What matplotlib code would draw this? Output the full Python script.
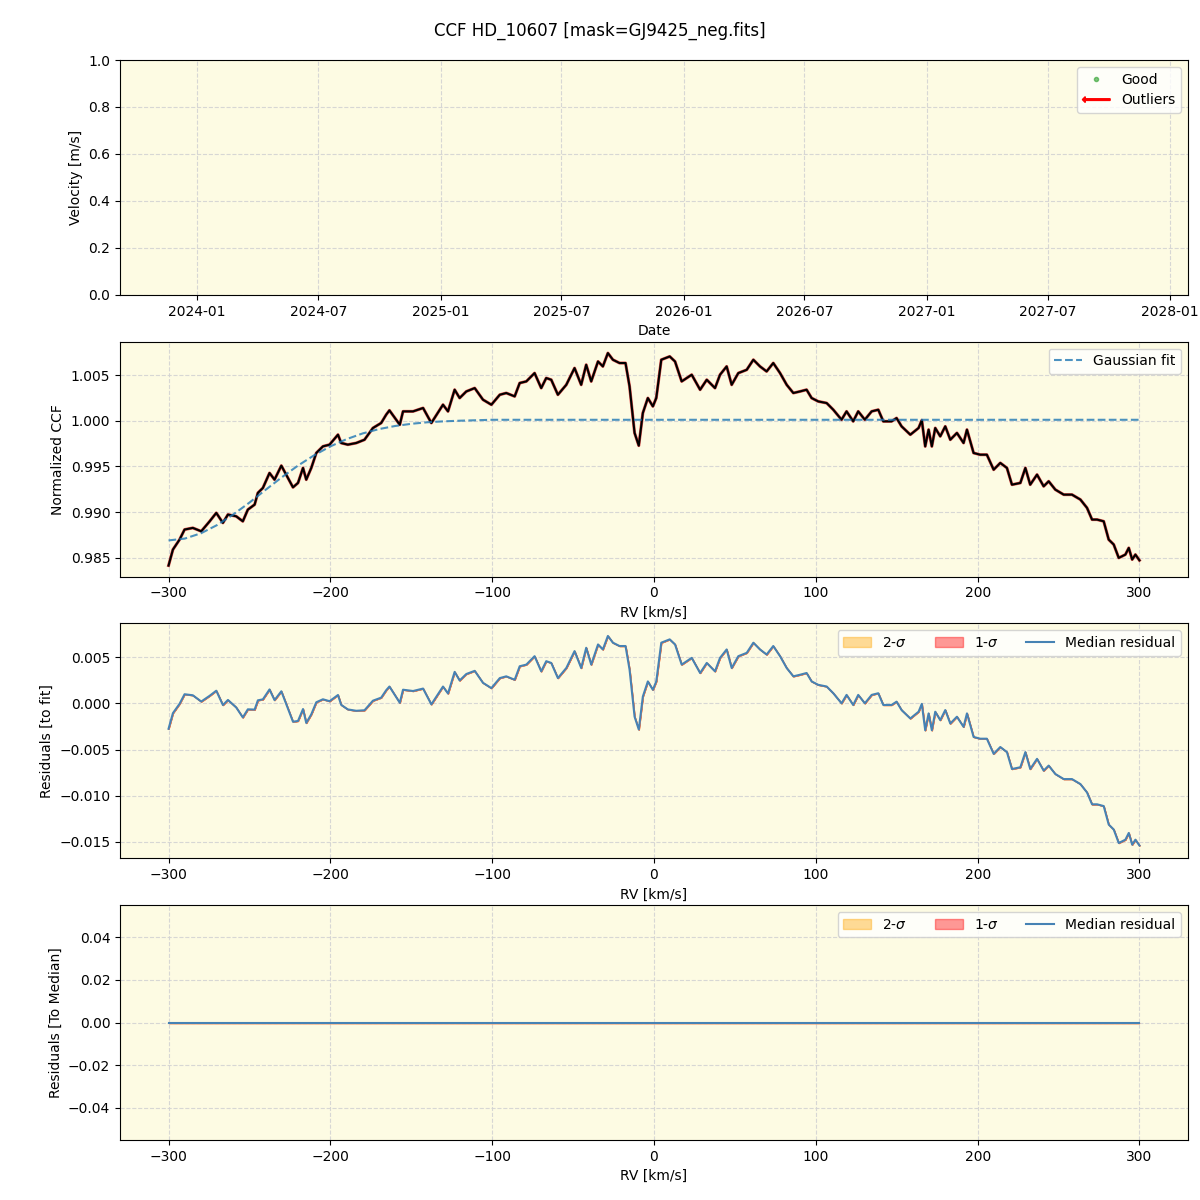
import datetime as dt

import numpy as np
import matplotlib
matplotlib.use("Agg")
import matplotlib.pyplot as plt
import matplotlib.dates as mdates
from matplotlib.lines import Line2D
from matplotlib.patches import FancyArrow, Patch
from matplotlib.legend_handler import HandlerPatch

# ---------- data ----------
rv = [
    -300.0, -297.3, -293.2, -290.1, -285.0, -279.8, -274.6, -270.5, -266.4, -263.3,
    -258.2, -254.1, -251.0, -246.8, -244.8, -241.7, -237.6, -234.5, -230.3, -227.3,
    -223.1, -220.0, -216.9, -214.9, -211.8, -208.7, -204.6, -200.5, -195.3, -193.3,
    -189.2, -184.0, -178.9, -173.7, -168.6, -165.5, -163.5, -159.3,
    -157.1, -155.1, -148.9, -142.7, -137.6, -130.4, -127.3, -123.2, -120.1, -116.0,
    -110.8, -105.7, -100.5, -95.3, -91.3, -86.1, -83.0, -78.9, -73.8, -69.7,
    -66.6, -63.5, -59.4, -54.2, -49.1, -45.0, -41.9, -38.8, -34.6, -31.6,
    -28.5, -25.4, -21.3, -17.6, -15.1, -12.0, -9.4, -6.9, -3.8, -0.7, 1.4, 4.5, 9.7,
    13.0, 17.1, 23.3, 28.5, 32.6, 37.7, 40.8, 44.9, 48.0, 52.1, 57.3, 61.4, 65.5,
    69.6, 73.7, 77.9, 82.0, 86.1, 90.2, 94.3, 97.4, 101.5, 106.7, 110.8, 115.9,
    119.0, 123.1, 126.2, 130.3, 134.5, 138.6, 141.7, 146.8, 149.9, 153.0, 158.4,
    163.5, 165.5,
    167.6, 169.7, 171.7, 173.8, 176.9, 180.0, 183.1, 187.2, 191.3, 193.4, 197.5,
    201.6, 205.7, 209.9, 214.0, 218.1, 221.2, 226.4, 229.5, 232.5, 236.7, 240.8,
    243.9, 248.0, 253.2, 258.3, 263.5, 267.6, 270.7, 273.8, 277.9, 281.0, 284.1,
    287.2, 291.3, 293.4, 295.5, 297.5, 300.0,
]
ccf = [
    0.98415, 0.98590, 0.98699, 0.98809, 0.98827, 0.98790, 0.98899, 0.98991, 0.98882, 0.98973,
    0.98954, 0.98899, 0.99027, 0.99082, 0.99210, 0.99264, 0.99428, 0.99355, 0.99508, 0.99410,
    0.99271, 0.99319, 0.99483, 0.99355, 0.99483, 0.99647, 0.99719, 0.99738, 0.99847, 0.99756,
    0.99738, 0.99756, 0.99792, 0.99920, 0.99975, 1.00066, 1.00113, 1.00011,
    0.99956, 1.00102, 1.00102, 1.00139, 0.99975, 1.00175, 1.00102, 1.00339, 1.00248, 1.00320,
    1.00357, 1.00230, 1.00175, 1.00284, 1.00303, 1.00266, 1.00412, 1.00430, 1.00521, 1.00357,
    1.00467, 1.00448, 1.00284, 1.00393, 1.00576, 1.00393, 1.00612, 1.00430, 1.00648, 1.00594,
    1.00740, 1.00667, 1.00631, 1.00631, 1.00375, 0.99866, 0.99727, 1.00084, 1.00248, 1.00157,
    1.00248, 1.00667, 1.00703,
    1.00648, 1.00430, 1.00503, 1.00339, 1.00448, 1.00357, 1.00503, 1.00594, 1.00393, 1.00521,
    1.00557, 1.00667, 1.00594, 1.00539, 1.00631, 1.00521, 1.00393, 1.00303, 1.00320, 1.00339,
    1.00248, 1.00211, 1.00193, 1.00120, 1.00011, 1.00102, 0.99993, 1.00102, 1.00011, 1.00102,
    1.00120, 0.99993, 0.99993, 1.00029, 0.99938, 0.99847, 0.99920, 1.00005,
    0.99719, 0.99902, 0.99719, 0.99920, 0.99829, 0.99938, 0.99792, 0.99866, 0.99756, 0.99902,
    0.99647, 0.99628, 0.99628, 0.99464, 0.99538, 0.99483, 0.99300, 0.99319, 0.99483, 0.99300,
    0.99410, 0.99282, 0.99337, 0.99246, 0.99191, 0.99191, 0.99137, 0.99046, 0.98918, 0.98918,
    0.98899, 0.98699, 0.98645, 0.98499, 0.98535, 0.98608, 0.98481, 0.98535, 0.98472,
]

# Gaussian fit curve, read at 10 km/s steps
fit_rv = [-300, -290, -280, -270, -260, -250, -240, -230, -220, -210, -200,
          -190, -180, -170, -160, -150, -140, -130, -120, -110, -100, 300]
fit_val = [0.98690, 0.98710, 0.98768, 0.98858, 0.98974, 0.99104, 0.99244,
           0.99381, 0.99509, 0.99622, 0.99719, 0.99798, 0.99861, 0.99908,
           0.99942, 0.99966, 0.99983, 0.99993, 1.00000, 1.00005, 1.00010, 1.00010]

date_start = dt.date(2023, 9, 7)
date_end = dt.date(2028, 1, 28)

BG = "#fdfbe3"

rv = np.array(rv)
ccf = np.array(ccf)
fit_at_rv = np.interp(rv, fit_rv, fit_val)
resid = ccf - fit_at_rv
resid_med = resid - resid  # single observation -> zero deviation from median


def make_arrow(legend, orig_handle, xdescent, ydescent, width, height, fontsize):
    return FancyArrow(width, 0.5 * height, -width, 0, width=1.2,
                      head_width=0.6 * height, head_length=0.3 * height,
                      length_includes_head=True, color="red")


fig, axes = plt.subplots(4, 1, figsize=(12, 12))
fig.subplots_adjust(left=0.1, right=0.99, top=0.95, bottom=0.05, hspace=0.2)
fig.suptitle("CCF HD_10607 [mask=GJ9425_neg.fits]", fontsize=12, y=0.982)

for ax in axes:
    ax.set_facecolor(BG)
    ax.grid(True, linestyle="--", color="lightgray", alpha=0.9)
    ax.set_axisbelow(True)

# ---------- panel 1: velocities vs date (empty) ----------
ax = axes[0]
ax.set_xlim(date_start, date_end)
ax.set_ylim(0, 1)
ax.xaxis.set_major_locator(mdates.MonthLocator(bymonth=[1, 7]))
ax.xaxis.set_major_formatter(mdates.DateFormatter("%Y-%m"))
ax.set_xlabel("Date")
ax.set_ylabel("Velocity [m/s]")
good = Line2D([], [], marker="o", linestyle="none", color="tab:green",
              alpha=0.6, markersize=3, label="Good")
outl = Patch(color="red", label="Outliers")
ax.legend(handles=[good, outl], loc="upper right",
          handler_map={outl: HandlerPatch(patch_func=make_arrow)})

# ---------- panel 2: CCF + Gaussian fit ----------
ax = axes[1]
ax.plot(rv, ccf, color="tab:red", lw=2.2, alpha=0.8)
ax.plot(rv, ccf, color="black", lw=1.5)
ax.plot(fit_rv, fit_val, "--", color="tab:blue", alpha=0.8, lw=1.5,
        label="Gaussian fit")
ax.set_ylim(0.98295, 1.00864)
ax.set_xlim(-330, 330)
ax.set_xlabel("RV [km/s]")
ax.set_ylabel("Normalized CCF")
ax.legend(loc="upper right")

# ---------- panel 3: residuals to fit ----------
ax = axes[2]
ax.fill_between(rv, resid, resid, color="orange", alpha=0.4, label="2-$\\sigma$")
ax.fill_between(rv, resid, resid, color="red", alpha=0.4, label="1-$\\sigma$")
ax.plot(rv, resid, color="steelblue", lw=1.5, label="Median residual")
ax.set_ylim(-0.01676, 0.00865)
ax.set_xlim(-330, 330)
ax.set_xlabel("RV [km/s]")
ax.set_ylabel("Residuals [to fit]")
ax.legend(loc="upper right", ncol=3)

# ---------- panel 4: residuals to median ----------
ax = axes[3]
ax.fill_between(rv, resid_med, resid_med, color="orange", alpha=0.4, label="2-$\\sigma$")
ax.fill_between(rv, resid_med, resid_med, color="red", alpha=0.4, label="1-$\\sigma$")
ax.plot(rv, resid_med, color="steelblue", lw=1.5, label="Median residual")
ax.set_ylim(-0.055, 0.055)
ax.set_xlim(-330, 330)
ax.set_xlabel("RV [km/s]")
ax.set_ylabel("Residuals [To Median]")
ax.legend(loc="upper right", ncol=3)

fig.savefig("out.png", dpi=100)
plt.close(fig)
